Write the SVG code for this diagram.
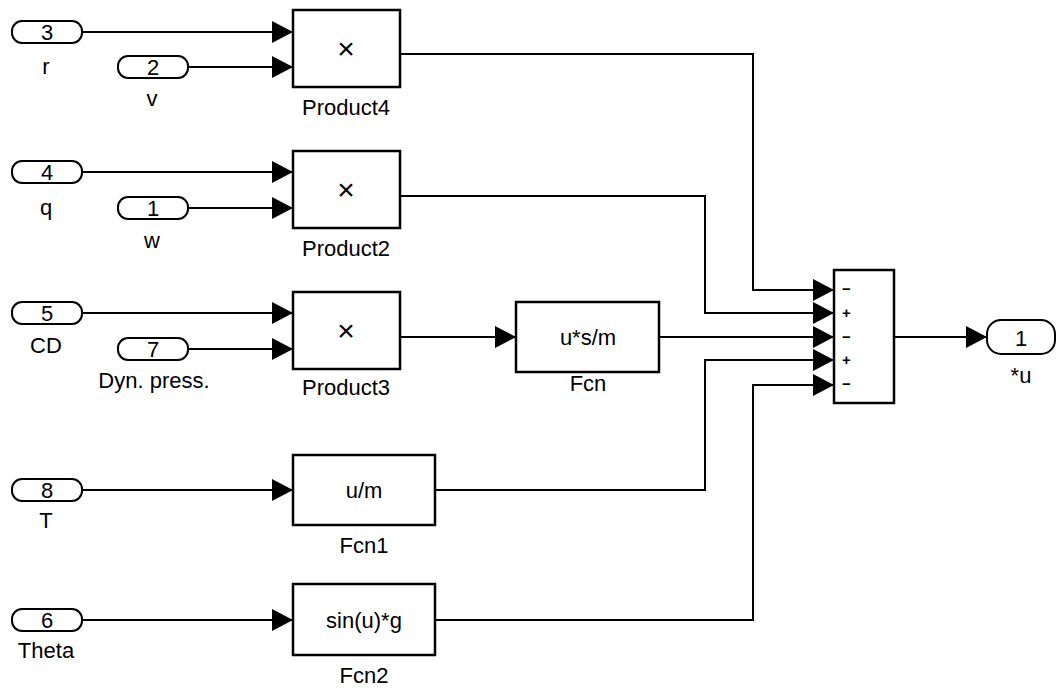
<svg xmlns="http://www.w3.org/2000/svg" width="1057" height="689" viewBox="0 0 1057 689">
<style>
  .blk { fill: #fff; stroke: #000; stroke-width: 2.5; }
  .pill { fill: #fff; stroke: #000; stroke-width: 2; }
  .ln { fill: none; stroke: #000; stroke-width: 2; marker-end: url(#arr); }
  text { font-family: "Liberation Sans", Arial, sans-serif; fill: #000; text-anchor: middle; }
  .t { font-size: 22px; }
  .n { font-size: 22px; }
  .x { font-size: 30px; }
  .sg { font-size: 15px; font-weight: bold; text-anchor: start; }
</style>
<defs>
  <marker id="arr" viewBox="0 0 21 22" refX="21" refY="11" markerWidth="21" markerHeight="22" markerUnits="userSpaceOnUse" orient="auto">
    <path d="M0,0 L21,11 L0,22 z" fill="#000"/>
  </marker>
</defs>
<rect width="1057" height="689" fill="#fff"/>

<g id="connectors">
  <path class="ln" d="M82,32 H293"/>
  <path class="ln" d="M188,67 H293"/>
  <path class="ln" d="M82,172 H293"/>
  <path class="ln" d="M188,208 H293"/>
  <path class="ln" d="M82,313 H293"/>
  <path class="ln" d="M188,349 H293"/>
  <path class="ln" d="M400,337 H516"/>
  <path class="ln" d="M82,490 H293"/>
  <path class="ln" d="M82,620 H293"/>
  <path class="ln" d="M400,54 H753 V290 H834"/>
  <path class="ln" d="M400,196 H705 V313 H834"/>
  <path class="ln" d="M659,337 H834"/>
  <path class="ln" d="M435,490 H705 V360 H834"/>
  <path class="ln" d="M435,620 H753 V385 H834"/>
  <path class="ln" d="M894,337 H987"/>
</g>

<g id="in3"><rect class="pill" x="12" y="21" width="70" height="22" rx="10" ry="10"/><text class="n" x="47" y="40">3</text><text class="t" x="46" y="74">r</text></g>
<g id="in2"><rect class="pill" x="118" y="56" width="70" height="22" rx="10" ry="10"/><text class="n" x="153" y="75">2</text><text class="t" x="152" y="106">v</text></g>
<g id="in4"><rect class="pill" x="12" y="161" width="70" height="22" rx="10" ry="10"/><text class="n" x="47" y="180">4</text><text class="t" x="46" y="215">q</text></g>
<g id="in1"><rect class="pill" x="118" y="197" width="70" height="22" rx="10" ry="10"/><text class="n" x="153" y="216">1</text><text class="t" x="152" y="248">w</text></g>
<g id="in5"><rect class="pill" x="12" y="302" width="70" height="22" rx="10" ry="10"/><text class="n" x="47" y="321">5</text><text class="t" x="46" y="353">CD</text></g>
<g id="in7"><rect class="pill" x="118" y="338" width="70" height="22" rx="10" ry="10"/><text class="n" x="153" y="357">7</text><text class="t" x="154" y="388">Dyn. press.</text></g>
<g id="in8"><rect class="pill" x="12" y="479" width="70" height="22" rx="10" ry="10"/><text class="n" x="47" y="498">8</text><text class="t" x="46" y="528">T</text></g>
<g id="in6"><rect class="pill" x="12" y="609" width="70" height="22" rx="10" ry="10"/><text class="n" x="47" y="628">6</text><text class="t" x="46" y="658">Theta</text></g>

<g id="product4"><rect class="blk" x="293" y="10" width="107" height="77"/><text class="x" x="346" y="59">×</text><text class="t" x="346" y="115">Product4</text></g>
<g id="product2"><rect class="blk" x="293" y="151" width="107" height="77"/><text class="x" x="346" y="200">×</text><text class="t" x="346" y="256">Product2</text></g>
<g id="product3"><rect class="blk" x="293" y="292" width="107" height="77"/><text class="x" x="346" y="341">×</text><text class="t" x="346" y="395">Product3</text></g>

<g id="fcn"><rect class="blk" x="516" y="302" width="143" height="70"/><text class="t" x="588" y="345">u*s/m</text><text class="t" x="588" y="391">Fcn</text></g>
<g id="fcn1"><rect class="blk" x="293" y="455" width="142" height="70"/><text class="t" x="364" y="498">u/m</text><text class="t" x="364" y="553">Fcn1</text></g>
<g id="fcn2"><rect class="blk" x="293" y="584" width="142" height="71"/><text class="t" x="364" y="628">sin(u)*g</text><text class="t" x="364" y="683">Fcn2</text></g>

<g id="sum"><rect class="blk" x="834" y="270" width="60" height="133"/>
  <text class="sg" x="842" y="294">−</text>
  <text class="sg" x="842" y="318">+</text>
  <text class="sg" x="842" y="342">−</text>
  <text class="sg" x="842" y="365">+</text>
  <text class="sg" x="842" y="389">−</text>
</g>

<g id="out1"><rect class="pill" x="987" y="320" width="68" height="34" rx="14" ry="14"/><text class="n" x="1021" y="346">1</text><text class="t" x="1021" y="383">*u</text></g>
</svg>
